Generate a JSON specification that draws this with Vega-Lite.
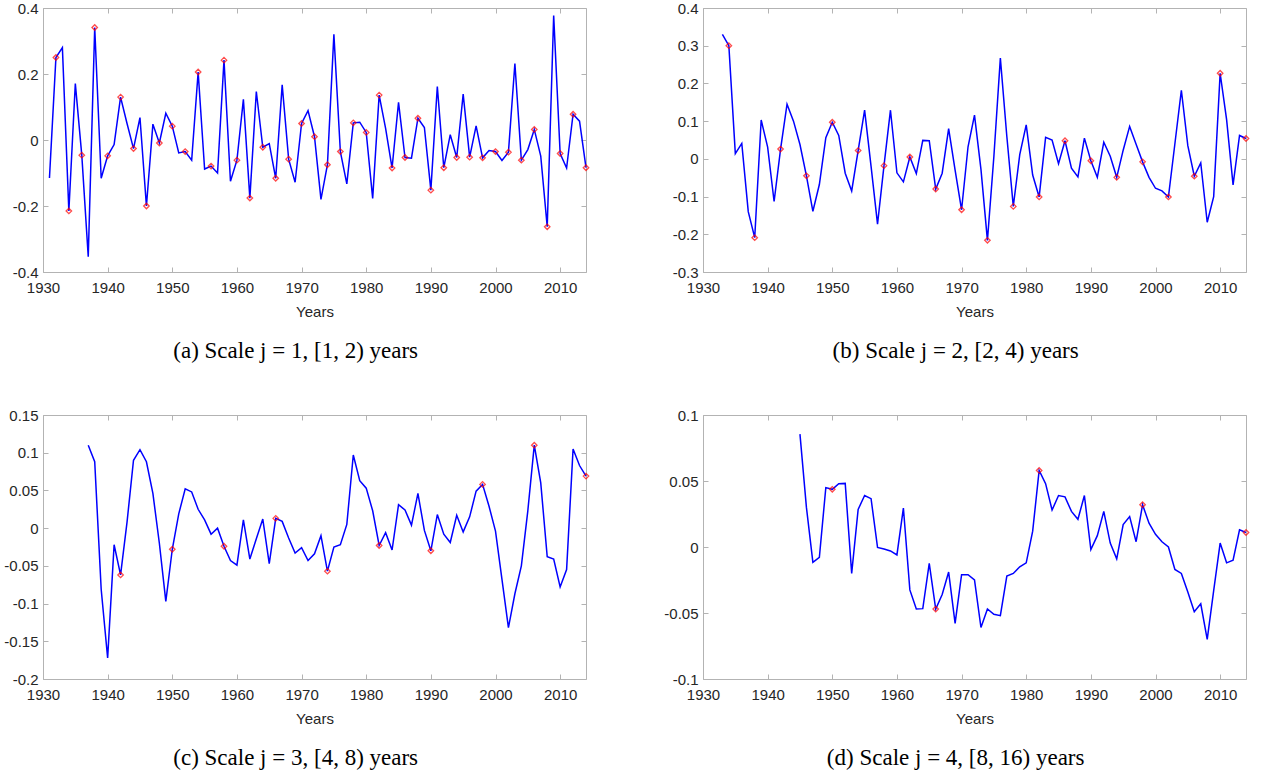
{
  "$schema": "https://vega.github.io/schema/vega-lite/v6.json",
  "background": "white",
  "padding": {"left": 0, "top": 1, "right": 6, "bottom": 0},
  "datasets": {
    "a": [
      {"year": 1931, "value": -0.115},
      {"year": 1932, "value": 0.25, "sampled": true},
      {"year": 1933, "value": 0.28},
      {"year": 1934, "value": -0.215, "sampled": true},
      {"year": 1935, "value": 0.171},
      {"year": 1936, "value": -0.046, "sampled": true},
      {"year": 1937, "value": -0.354},
      {"year": 1938, "value": 0.341, "sampled": true},
      {"year": 1939, "value": -0.116},
      {"year": 1940, "value": -0.048, "sampled": true},
      {"year": 1941, "value": -0.014},
      {"year": 1942, "value": 0.13, "sampled": true},
      {"year": 1943, "value": 0.05},
      {"year": 1944, "value": -0.026, "sampled": true},
      {"year": 1945, "value": 0.068},
      {"year": 1946, "value": -0.2, "sampled": true},
      {"year": 1947, "value": 0.048},
      {"year": 1948, "value": -0.009, "sampled": true},
      {"year": 1949, "value": 0.081},
      {"year": 1950, "value": 0.042, "sampled": true},
      {"year": 1951, "value": -0.039},
      {"year": 1952, "value": -0.035, "sampled": true},
      {"year": 1953, "value": -0.061},
      {"year": 1954, "value": 0.206, "sampled": true},
      {"year": 1955, "value": -0.088},
      {"year": 1956, "value": -0.079, "sampled": true},
      {"year": 1957, "value": -0.1},
      {"year": 1958, "value": 0.242, "sampled": true},
      {"year": 1959, "value": -0.125},
      {"year": 1960, "value": -0.061, "sampled": true},
      {"year": 1961, "value": 0.123},
      {"year": 1962, "value": -0.176, "sampled": true},
      {"year": 1963, "value": 0.147},
      {"year": 1964, "value": -0.022, "sampled": true},
      {"year": 1965, "value": -0.011},
      {"year": 1966, "value": -0.116, "sampled": true},
      {"year": 1967, "value": 0.167},
      {"year": 1968, "value": -0.058, "sampled": true},
      {"year": 1969, "value": -0.128},
      {"year": 1970, "value": 0.05, "sampled": true},
      {"year": 1971, "value": 0.089},
      {"year": 1972, "value": 0.01, "sampled": true},
      {"year": 1973, "value": -0.18},
      {"year": 1974, "value": -0.075, "sampled": true},
      {"year": 1975, "value": 0.32},
      {"year": 1976, "value": -0.035, "sampled": true},
      {"year": 1977, "value": -0.133},
      {"year": 1978, "value": 0.052, "sampled": true},
      {"year": 1979, "value": 0.054},
      {"year": 1980, "value": 0.023, "sampled": true},
      {"year": 1981, "value": -0.177},
      {"year": 1982, "value": 0.136, "sampled": true},
      {"year": 1983, "value": 0.035},
      {"year": 1984, "value": -0.085, "sampled": true},
      {"year": 1985, "value": 0.114},
      {"year": 1986, "value": -0.053, "sampled": true},
      {"year": 1987, "value": -0.055},
      {"year": 1988, "value": 0.066, "sampled": true},
      {"year": 1989, "value": 0.038},
      {"year": 1990, "value": -0.152, "sampled": true},
      {"year": 1991, "value": 0.162},
      {"year": 1992, "value": -0.084, "sampled": true},
      {"year": 1993, "value": 0.016},
      {"year": 1994, "value": -0.053, "sampled": true},
      {"year": 1995, "value": 0.139},
      {"year": 1996, "value": -0.052, "sampled": true},
      {"year": 1997, "value": 0.043},
      {"year": 1998, "value": -0.054, "sampled": true},
      {"year": 1999, "value": -0.032},
      {"year": 2000, "value": -0.035, "sampled": true},
      {"year": 2001, "value": -0.062},
      {"year": 2002, "value": -0.037, "sampled": true},
      {"year": 2003, "value": 0.232},
      {"year": 2004, "value": -0.061, "sampled": true},
      {"year": 2005, "value": -0.029},
      {"year": 2006, "value": 0.032, "sampled": true},
      {"year": 2007, "value": -0.049},
      {"year": 2008, "value": -0.263, "sampled": true},
      {"year": 2009, "value": 0.377},
      {"year": 2010, "value": -0.041, "sampled": true},
      {"year": 2011, "value": -0.085},
      {"year": 2012, "value": 0.078, "sampled": true},
      {"year": 2013, "value": 0.057},
      {"year": 2014, "value": -0.084, "sampled": true}
    ],
    "b": [
      {"year": 1933, "value": 0.33},
      {"year": 1934, "value": 0.3, "sampled": true},
      {"year": 1935, "value": 0.014},
      {"year": 1936, "value": 0.041},
      {"year": 1937, "value": -0.14},
      {"year": 1938, "value": -0.209, "sampled": true},
      {"year": 1939, "value": 0.103},
      {"year": 1940, "value": 0.031},
      {"year": 1941, "value": -0.113},
      {"year": 1942, "value": 0.026, "sampled": true},
      {"year": 1943, "value": 0.145},
      {"year": 1944, "value": 0.1},
      {"year": 1945, "value": 0.038},
      {"year": 1946, "value": -0.045, "sampled": true},
      {"year": 1947, "value": -0.139},
      {"year": 1948, "value": -0.068},
      {"year": 1949, "value": 0.056},
      {"year": 1950, "value": 0.097, "sampled": true},
      {"year": 1951, "value": 0.062},
      {"year": 1952, "value": -0.038},
      {"year": 1953, "value": -0.085},
      {"year": 1954, "value": 0.022, "sampled": true},
      {"year": 1955, "value": 0.129},
      {"year": 1956, "value": -0.02},
      {"year": 1957, "value": -0.173},
      {"year": 1958, "value": -0.018, "sampled": true},
      {"year": 1959, "value": 0.129},
      {"year": 1960, "value": -0.037},
      {"year": 1961, "value": -0.061},
      {"year": 1962, "value": 0.005, "sampled": true},
      {"year": 1963, "value": -0.039},
      {"year": 1964, "value": 0.049},
      {"year": 1965, "value": 0.048},
      {"year": 1966, "value": -0.08, "sampled": true},
      {"year": 1967, "value": -0.038},
      {"year": 1968, "value": 0.08},
      {"year": 1969, "value": -0.03},
      {"year": 1970, "value": -0.135, "sampled": true},
      {"year": 1971, "value": 0.032},
      {"year": 1972, "value": 0.116},
      {"year": 1973, "value": -0.028},
      {"year": 1974, "value": -0.216, "sampled": true},
      {"year": 1975, "value": 0.007},
      {"year": 1976, "value": 0.267},
      {"year": 1977, "value": 0.06},
      {"year": 1978, "value": -0.126, "sampled": true},
      {"year": 1979, "value": 0.011},
      {"year": 1980, "value": 0.09},
      {"year": 1981, "value": -0.043},
      {"year": 1982, "value": -0.101, "sampled": true},
      {"year": 1983, "value": 0.057},
      {"year": 1984, "value": 0.05},
      {"year": 1985, "value": -0.013},
      {"year": 1986, "value": 0.048, "sampled": true},
      {"year": 1987, "value": -0.025},
      {"year": 1988, "value": -0.048},
      {"year": 1989, "value": 0.055},
      {"year": 1990, "value": -0.005, "sampled": true},
      {"year": 1991, "value": -0.049},
      {"year": 1992, "value": 0.044},
      {"year": 1993, "value": 0.007},
      {"year": 1994, "value": -0.049, "sampled": true},
      {"year": 1995, "value": 0.023},
      {"year": 1996, "value": 0.086},
      {"year": 1997, "value": 0.039},
      {"year": 1998, "value": -0.008, "sampled": true},
      {"year": 1999, "value": -0.049},
      {"year": 2000, "value": -0.078},
      {"year": 2001, "value": -0.085},
      {"year": 2002, "value": -0.101, "sampled": true},
      {"year": 2003, "value": 0.04},
      {"year": 2004, "value": 0.182},
      {"year": 2005, "value": 0.035},
      {"year": 2006, "value": -0.046, "sampled": true},
      {"year": 2007, "value": -0.011},
      {"year": 2008, "value": -0.168},
      {"year": 2009, "value": -0.1},
      {"year": 2010, "value": 0.227, "sampled": true},
      {"year": 2011, "value": 0.104},
      {"year": 2012, "value": -0.069},
      {"year": 2013, "value": 0.062},
      {"year": 2014, "value": 0.054, "sampled": true}
    ],
    "c": [
      {"year": 1937, "value": 0.11},
      {"year": 1938, "value": 0.088},
      {"year": 1939, "value": -0.081},
      {"year": 1940, "value": -0.172},
      {"year": 1941, "value": -0.022},
      {"year": 1942, "value": -0.062, "sampled": true},
      {"year": 1943, "value": 0.008},
      {"year": 1944, "value": 0.09},
      {"year": 1945, "value": 0.104},
      {"year": 1946, "value": 0.088},
      {"year": 1947, "value": 0.046},
      {"year": 1948, "value": -0.02},
      {"year": 1949, "value": -0.097},
      {"year": 1950, "value": -0.028, "sampled": true},
      {"year": 1951, "value": 0.019},
      {"year": 1952, "value": 0.052},
      {"year": 1953, "value": 0.048},
      {"year": 1954, "value": 0.025},
      {"year": 1955, "value": 0.011},
      {"year": 1956, "value": -0.008},
      {"year": 1957, "value": 0.0},
      {"year": 1958, "value": -0.024, "sampled": true},
      {"year": 1959, "value": -0.043},
      {"year": 1960, "value": -0.049},
      {"year": 1961, "value": 0.011},
      {"year": 1962, "value": -0.041},
      {"year": 1963, "value": -0.014},
      {"year": 1964, "value": 0.012},
      {"year": 1965, "value": -0.047},
      {"year": 1966, "value": 0.013, "sampled": true},
      {"year": 1967, "value": 0.009},
      {"year": 1968, "value": -0.013},
      {"year": 1969, "value": -0.033},
      {"year": 1970, "value": -0.026},
      {"year": 1971, "value": -0.043},
      {"year": 1972, "value": -0.034},
      {"year": 1973, "value": -0.01},
      {"year": 1974, "value": -0.057, "sampled": true},
      {"year": 1975, "value": -0.025},
      {"year": 1976, "value": -0.022},
      {"year": 1977, "value": 0.005},
      {"year": 1978, "value": 0.097},
      {"year": 1979, "value": 0.063},
      {"year": 1980, "value": 0.053},
      {"year": 1981, "value": 0.023},
      {"year": 1982, "value": -0.023, "sampled": true},
      {"year": 1983, "value": -0.006},
      {"year": 1984, "value": -0.029},
      {"year": 1985, "value": 0.031},
      {"year": 1986, "value": 0.024},
      {"year": 1987, "value": 0.004},
      {"year": 1988, "value": 0.046},
      {"year": 1989, "value": -0.003},
      {"year": 1990, "value": -0.03, "sampled": true},
      {"year": 1991, "value": 0.018},
      {"year": 1992, "value": -0.008},
      {"year": 1993, "value": -0.019},
      {"year": 1994, "value": 0.017},
      {"year": 1995, "value": -0.005},
      {"year": 1996, "value": 0.015},
      {"year": 1997, "value": 0.049},
      {"year": 1998, "value": 0.058, "sampled": true},
      {"year": 1999, "value": 0.029},
      {"year": 2000, "value": -0.004},
      {"year": 2001, "value": -0.068},
      {"year": 2002, "value": -0.132},
      {"year": 2003, "value": -0.087},
      {"year": 2004, "value": -0.05},
      {"year": 2005, "value": 0.023},
      {"year": 2006, "value": 0.11, "sampled": true},
      {"year": 2007, "value": 0.06},
      {"year": 2008, "value": -0.038},
      {"year": 2009, "value": -0.041},
      {"year": 2010, "value": -0.078},
      {"year": 2011, "value": -0.055},
      {"year": 2012, "value": 0.105},
      {"year": 2013, "value": 0.083},
      {"year": 2014, "value": 0.069, "sampled": true}
    ],
    "d": [
      {"year": 1945, "value": 0.0855},
      {"year": 1946, "value": 0.03},
      {"year": 1947, "value": -0.0116},
      {"year": 1948, "value": -0.0078},
      {"year": 1949, "value": 0.045},
      {"year": 1950, "value": 0.0437, "sampled": true},
      {"year": 1951, "value": 0.048},
      {"year": 1952, "value": 0.0482},
      {"year": 1953, "value": -0.02},
      {"year": 1954, "value": 0.0285},
      {"year": 1955, "value": 0.039},
      {"year": 1956, "value": 0.0366},
      {"year": 1957, "value": -0.0003},
      {"year": 1958, "value": -0.0015},
      {"year": 1959, "value": -0.003},
      {"year": 1960, "value": -0.006},
      {"year": 1961, "value": 0.0295},
      {"year": 1962, "value": -0.0325},
      {"year": 1963, "value": -0.047},
      {"year": 1964, "value": -0.0467},
      {"year": 1965, "value": -0.0124},
      {"year": 1966, "value": -0.047, "sampled": true},
      {"year": 1967, "value": -0.036},
      {"year": 1968, "value": -0.019},
      {"year": 1969, "value": -0.0578},
      {"year": 1970, "value": -0.021},
      {"year": 1971, "value": -0.021},
      {"year": 1972, "value": -0.025},
      {"year": 1973, "value": -0.061},
      {"year": 1974, "value": -0.047},
      {"year": 1975, "value": -0.051},
      {"year": 1976, "value": -0.052},
      {"year": 1977, "value": -0.022},
      {"year": 1978, "value": -0.02},
      {"year": 1979, "value": -0.015},
      {"year": 1980, "value": -0.012},
      {"year": 1981, "value": 0.012},
      {"year": 1982, "value": 0.058, "sampled": true},
      {"year": 1983, "value": 0.048},
      {"year": 1984, "value": 0.028},
      {"year": 1985, "value": 0.039},
      {"year": 1986, "value": 0.038},
      {"year": 1987, "value": 0.027},
      {"year": 1988, "value": 0.021},
      {"year": 1989, "value": 0.039},
      {"year": 1990, "value": -0.002},
      {"year": 1991, "value": 0.0086},
      {"year": 1992, "value": 0.027},
      {"year": 1993, "value": 0.003},
      {"year": 1994, "value": -0.009},
      {"year": 1995, "value": 0.017},
      {"year": 1996, "value": 0.023},
      {"year": 1997, "value": 0.004},
      {"year": 1998, "value": 0.032, "sampled": true},
      {"year": 1999, "value": 0.018},
      {"year": 2000, "value": 0.0096},
      {"year": 2001, "value": 0.004},
      {"year": 2002, "value": 0.0},
      {"year": 2003, "value": -0.017},
      {"year": 2004, "value": -0.02},
      {"year": 2005, "value": -0.034},
      {"year": 2006, "value": -0.049},
      {"year": 2007, "value": -0.043},
      {"year": 2008, "value": -0.07},
      {"year": 2009, "value": -0.033},
      {"year": 2010, "value": 0.003},
      {"year": 2011, "value": -0.012},
      {"year": 2012, "value": -0.01},
      {"year": 2013, "value": 0.013},
      {"year": 2014, "value": 0.011, "sampled": true}
    ]
  },
  "vconcat": [
    {
      "hconcat": [
        {
          "width": 543, "height": 264,
          "title": {"text": "(a) Scale j = 1, [1, 2) years"},
          "data": {"name": "a"},
          "layer": [
            {
              "mark": {"type": "line", "color": "#0000ff", "strokeWidth": 1.5},
              "encoding": {
                "x": {"field": "year", "type": "quantitative", "scale": {"domain": [1930, 2014], "nice": false, "zero": false},
                      "axis": {"orient": "bottom", "title": "Years", "values": [1930, 1940, 1950, 1960, 1970, 1980, 1990, 2000, 2010], "format": "d"}},
                "y": {"field": "value", "type": "quantitative", "scale": {"domain": [-0.4, 0.4], "nice": false},
                      "axis": {"orient": "left", "title": null, "values": [-0.4, -0.2, 0, 0.2, 0.4], "labelExpr": "datum.value < 0 ? '-' + format(-datum.value, '~g') : format(datum.value, '~g')"}}
              }
            },
            {
              "transform": [{"filter": "datum.sampled"}],
              "mark": {"type": "point", "shape": "diamond", "filled": false, "color": "#ff0000", "size": 30, "strokeWidth": 1.3},
              "encoding": {
                "x": {"field": "year", "type": "quantitative", "axis": {"orient": "top", "labels": false, "title": null, "values": [1930, 1940, 1950, 1960, 1970, 1980, 1990, 2000, 2010], "maxExtent": 0}},
                "y": {"field": "value", "type": "quantitative", "axis": {"orient": "right", "labels": false, "title": null, "values": [-0.4, -0.2, 0, 0.2, 0.4], "maxExtent": 0}}
              }
            }
          ],
          "resolve": {"axis": {"x": "independent", "y": "independent"}}
        },
        {
          "width": 543, "height": 264,
          "title": {"text": "(b) Scale j = 2, [2, 4) years"},
          "data": {"name": "b"},
          "layer": [
            {
              "mark": {"type": "line", "color": "#0000ff", "strokeWidth": 1.5},
              "encoding": {
                "x": {"field": "year", "type": "quantitative", "scale": {"domain": [1930, 2014], "nice": false, "zero": false},
                      "axis": {"orient": "bottom", "title": "Years", "values": [1930, 1940, 1950, 1960, 1970, 1980, 1990, 2000, 2010], "format": "d"}},
                "y": {"field": "value", "type": "quantitative", "scale": {"domain": [-0.3, 0.4], "nice": false},
                      "axis": {"orient": "left", "title": null, "values": [-0.3, -0.2, -0.1, 0, 0.1, 0.2, 0.3, 0.4], "labelExpr": "datum.value < 0 ? '-' + format(-datum.value, '~g') : format(datum.value, '~g')"}}
              }
            },
            {
              "transform": [{"filter": "datum.sampled"}],
              "mark": {"type": "point", "shape": "diamond", "filled": false, "color": "#ff0000", "size": 30, "strokeWidth": 1.3},
              "encoding": {
                "x": {"field": "year", "type": "quantitative", "axis": {"orient": "top", "labels": false, "title": null, "values": [1930, 1940, 1950, 1960, 1970, 1980, 1990, 2000, 2010], "maxExtent": 0}},
                "y": {"field": "value", "type": "quantitative", "axis": {"orient": "right", "labels": false, "title": null, "values": [-0.3, -0.2, -0.1, 0, 0.1, 0.2, 0.3, 0.4], "maxExtent": 0}}
              }
            }
          ],
          "resolve": {"axis": {"x": "independent", "y": "independent"}}
        }
      ]
    },
    {
      "hconcat": [
        {
          "width": 543, "height": 264,
          "title": {"text": "(c) Scale j = 3, [4, 8) years"},
          "data": {"name": "c"},
          "layer": [
            {
              "mark": {"type": "line", "color": "#0000ff", "strokeWidth": 1.5},
              "encoding": {
                "x": {"field": "year", "type": "quantitative", "scale": {"domain": [1930, 2014], "nice": false, "zero": false},
                      "axis": {"orient": "bottom", "title": "Years", "values": [1930, 1940, 1950, 1960, 1970, 1980, 1990, 2000, 2010], "format": "d"}},
                "y": {"field": "value", "type": "quantitative", "scale": {"domain": [-0.2, 0.15], "nice": false},
                      "axis": {"orient": "left", "title": null, "values": [-0.2, -0.15, -0.1, -0.05, 0, 0.05, 0.1, 0.15], "labelExpr": "datum.value < 0 ? '-' + format(-datum.value, '~g') : format(datum.value, '~g')"}}
              }
            },
            {
              "transform": [{"filter": "datum.sampled"}],
              "mark": {"type": "point", "shape": "diamond", "filled": false, "color": "#ff0000", "size": 30, "strokeWidth": 1.3},
              "encoding": {
                "x": {"field": "year", "type": "quantitative", "axis": {"orient": "top", "labels": false, "title": null, "values": [1930, 1940, 1950, 1960, 1970, 1980, 1990, 2000, 2010], "maxExtent": 0}},
                "y": {"field": "value", "type": "quantitative", "axis": {"orient": "right", "labels": false, "title": null, "values": [-0.2, -0.15, -0.1, -0.05, 0, 0.05, 0.1, 0.15], "maxExtent": 0}}
              }
            }
          ],
          "resolve": {"axis": {"x": "independent", "y": "independent"}}
        },
        {
          "width": 543, "height": 264,
          "title": {"text": "(d) Scale j = 4, [8, 16) years"},
          "data": {"name": "d"},
          "layer": [
            {
              "mark": {"type": "line", "color": "#0000ff", "strokeWidth": 1.5},
              "encoding": {
                "x": {"field": "year", "type": "quantitative", "scale": {"domain": [1930, 2014], "nice": false, "zero": false},
                      "axis": {"orient": "bottom", "title": "Years", "values": [1930, 1940, 1950, 1960, 1970, 1980, 1990, 2000, 2010], "format": "d"}},
                "y": {"field": "value", "type": "quantitative", "scale": {"domain": [-0.1, 0.1], "nice": false},
                      "axis": {"orient": "left", "title": null, "values": [-0.1, -0.05, 0, 0.05, 0.1], "labelExpr": "datum.value < 0 ? '-' + format(-datum.value, '~g') : format(datum.value, '~g')"}}
              }
            },
            {
              "transform": [{"filter": "datum.sampled"}],
              "mark": {"type": "point", "shape": "diamond", "filled": false, "color": "#ff0000", "size": 30, "strokeWidth": 1.3},
              "encoding": {
                "x": {"field": "year", "type": "quantitative", "axis": {"orient": "top", "labels": false, "title": null, "values": [1930, 1940, 1950, 1960, 1970, 1980, 1990, 2000, 2010], "maxExtent": 0}},
                "y": {"field": "value", "type": "quantitative", "axis": {"orient": "right", "labels": false, "title": null, "values": [-0.1, -0.05, 0, 0.05, 0.1], "maxExtent": 0}}
              }
            }
          ],
          "resolve": {"axis": {"x": "independent", "y": "independent"}}
        }
      ]
    }
  ],
  "spacing": 45,
  "config": {
    "concat": {"spacing": 68},
    "view": {"stroke": null},
    "axis": {
      "grid": false,
      "domainColor": "#b3b3b3",
      "domainWidth": 1,
      "tickColor": "#b3b3b3",
      "tickSize": -5,
      "labelFont": "Liberation Sans",
      "labelFontSize": 15,
      "labelColor": "#262626",
      "labelPadding": 10,
      "labelFlush": false,
      "titleFont": "Liberation Sans",
      "titleFontSize": 15,
      "titleFontWeight": "normal",
      "titleColor": "#262626"
    },
    "axisLeft": {"minExtent": 43, "maxExtent": 43},
    "axisBottom": {"labelPadding": 13, "titlePadding": 9},
    "title": {
      "orient": "bottom",
      "anchor": "middle",
      "frame": "bounds",
      "font": "Liberation Serif",
      "fontSize": 23,
      "fontWeight": "normal",
      "color": "#000000",
      "offset": 21
    }
  }
}
